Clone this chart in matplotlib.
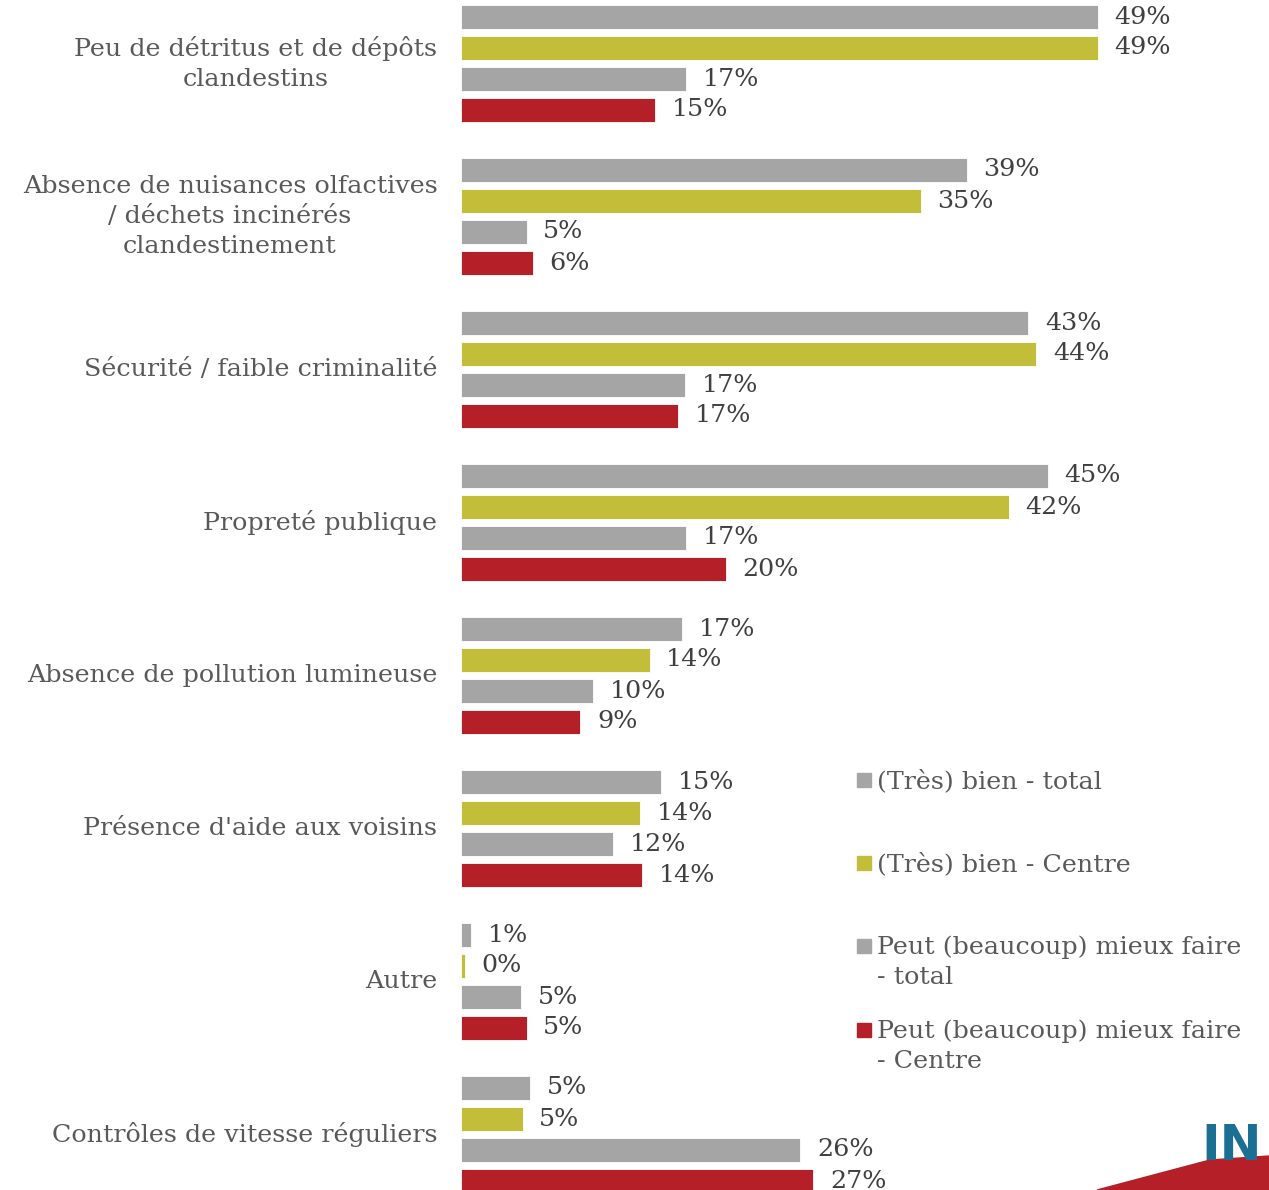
import matplotlib.pyplot as plt
from matplotlib.patches import Rectangle, Polygon

categories = [
    "Peu de détritus et de dépôts\nclandestins",
    "Absence de nuisances olfactives\n/ déchets incinérés\nclandestinement",
    "Sécurité / faible criminalité",
    "Propreté publique",
    "Absence de pollution lumineuse",
    "Présence d'aide aux voisins",
    "Autre",
    "Contrôles de vitesse réguliers",
]

series_names = [
    "(Très) bien - total",
    "(Très) bien - Centre",
    "Peut (beaucoup) mieux faire\n- total",
    "Peut (beaucoup) mieux faire\n- Centre",
]

# values per series (%)
bien_total = [48.6, 38.6, 43.3, 44.8, 16.9, 15.3, 0.8, 5.3]
bien_centre = [48.6, 35.1, 43.9, 41.8, 14.4, 13.7, 0.3, 4.7]
mieux_total = [17.2, 5.0, 17.1, 17.2, 10.1, 11.6, 4.6, 25.9]
mieux_centre = [14.8, 5.5, 16.6, 20.2, 9.1, 13.8, 5.0, 26.9]

series = [bien_total, bien_centre, mieux_total, mieux_centre]
colors = ["#A5A5A5", "#C2BE39", "#A5A5A5", "#B52028"]

W, H = 1269, 1190
BAR_STEP = 31.0
GROUP_STEP = 153.0 / BAR_STEP
PX_PER_PCT = 13.1
LEFT = 461
FS = 18.3

fig = plt.figure(figsize=(W / 100, H / 100), dpi=100)
ax = fig.add_axes([LEFT / W, 0, (W - LEFT) / W, 1])
ax.set_xlim(0, (W - LEFT) / PX_PER_PCT)
ax.set_ylim((H - 17) / BAR_STEP, -17 / BAR_STEP)
ax.axis("off")

font = "DejaVu Serif"

for j, (vals, col) in enumerate(zip(series, colors)):
    ys = [g * GROUP_STEP + j for g in range(len(categories))]
    ax.barh(ys, vals, height=0.77, color=col, edgecolor="white", linewidth=0.6)
    for y, v in zip(ys, vals):
        ax.annotate(f"{round(v)}%", xy=(v, y), xytext=(12, 0),
                    textcoords="offset points", ha="left", va="center",
                    fontsize=FS, color="#404040", family=font)

for g, cat in enumerate(categories):
    ax.annotate(cat, xy=(0, g * GROUP_STEP + 1.5), xytext=(-17, 0),
                textcoords="offset points", ha="right", va="center",
                multialignment="center", fontsize=FS, color="#595959",
                family=font, linespacing=1.4)

# legend, drawn by hand to keep the slide layout
legend_rows = [780, 863, 946, 1030]
for name, col, yp in zip(series_names, colors, legend_rows):
    fig.add_artist(Rectangle((857 / W, 1 - (yp + 7) / H), 14 / W, 14 / H,
                             transform=fig.transFigure, color=col))
    fig.text(877 / W, 1 - (yp - 11) / H, name, ha="left", va="top",
             fontsize=FS, color="#595959", family=font, linespacing=1.4,
             transform=fig.transFigure)

# partial logo in the corner
fig.add_artist(Polygon([(1097 / W, 0), (1210 / W, 1 - 1160 / H),
                        (1, 1 - 1156 / H), (1, 0)],
                       closed=True, transform=fig.transFigure,
                       color="#B52028"))
fig.text(1201 / W, 1 - 1160 / H, "IN", ha="left", va="baseline",
         fontsize=36, fontweight="bold", color="#1B6F93",
         family=["Liberation Sans Narrow", "DejaVu Sans"])

fig.savefig("out.png", dpi=100, facecolor="white")
